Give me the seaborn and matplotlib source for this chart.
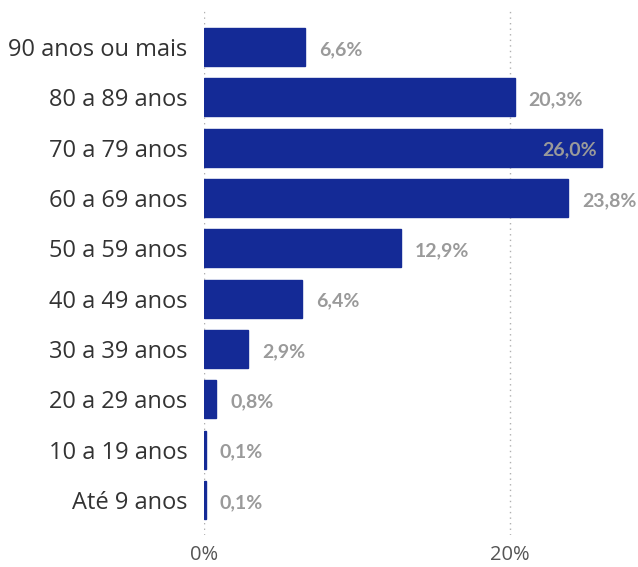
import matplotlib
matplotlib.use("Agg")
import matplotlib.pyplot as plt
import pandas as pd
import seaborn as sns

age_groups = [
    "90 anos ou mais",
    "80 a 89 anos",
    "70 a 79 anos",
    "60 a 69 anos",
    "50 a 59 anos",
    "40 a 49 anos",
    "30 a 39 anos",
    "20 a 29 anos",
    "10 a 19 anos",
    "Até 9 anos",
]
share_pct = [6.6, 20.3, 26.0, 23.8, 12.9, 6.4, 2.9, 0.8, 0.1, 0.1]
x_ticks = [0, 20]

_BAR = "#142a96"
_VALUE = "#9a9a9a"
_TEXT = "#333333"

sns.set_style("white")
plt.rcParams["font.family"] = ["Open Sans", "DejaVu Sans"]

df = pd.DataFrame({"grupo": age_groups, "pct": share_pct})

fig = plt.figure(figsize=(6.38, 5.67), dpi=100)
# axes placed so 0% sits at x=204px and gridlines run y=8..535px
ax = fig.add_axes([204 / 638, 1 - 535 / 567, 1 - 204 / 638, (535 - 8) / 567])

sns.barplot(data=df, x="pct", y="grupo", color=_BAR, width=0.75,
            saturation=1, ax=ax, orient="h", edgecolor=_BAR, linewidth=1)

ax.set_xlim(0, (638 - 204) / 15.3)
ax.set_ylim(9.695, -0.775)

for xv in x_ticks:
    ax.axvline(xv, color="#b0b0b0", linestyle=(0, (1, 3)), linewidth=1, zorder=0)

value_font = dict(color=_VALUE, fontsize=14, fontweight="bold",
                  family=["Lato", "DejaVu Sans"])
for i, v in enumerate(share_pct):
    label = f"{v:.1f}%".replace(".", ",")
    if v > 25:
        # no room outside the axis: put it inside the bar end
        ax.text(v - 0.3, i + 0.05, label, ha="right", va="center", **value_font)
    else:
        ax.text(v + 0.9, i + 0.05, label, ha="left", va="center", **value_font)

ax.set_xticks(x_ticks)
ax.set_xticklabels([f"{t}%" for t in x_ticks], fontsize=14.5, color="#555555")
ax.tick_params(axis="y", labelsize=17, labelcolor=_TEXT, length=0, pad=12)
ax.tick_params(axis="x", length=0, pad=7)
ax.set_xlabel("")
ax.set_ylabel("")
sns.despine(ax=ax, left=True, bottom=True)

fig.savefig("out.png", dpi=100)
